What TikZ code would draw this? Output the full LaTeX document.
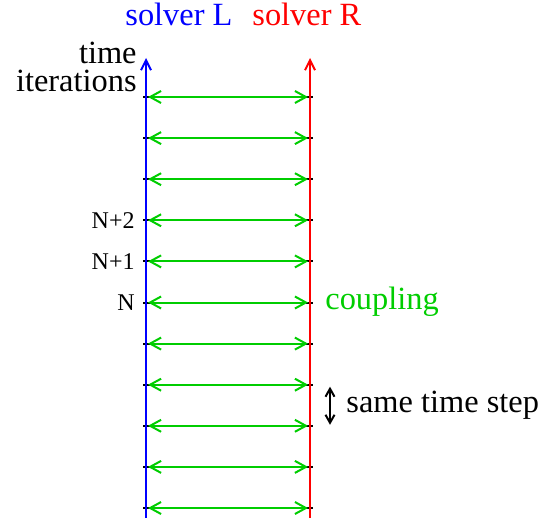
\documentclass[tikz,border=0pt]{standalone}
\usepackage{fontspec}
\setmainfont{Liberation Serif}
\usetikzlibrary{arrows.meta}
\definecolor{couplegreen}{RGB}{0,205,0}

\begin{document}
\begin{tikzpicture}[x=0.5pt, y=-0.5pt]
  \tikzstyle{axis} = [line width=1pt, -{Straight Barb[length=5pt,width=5pt]}]
  \tikzstyle{tickmark} = [line width=1pt, black]
  \tikzstyle{couple} = [couplegreen, line width=1pt, {Straight Barb[length=5.5pt,width=6pt]}-{Straight Barb[length=5.5pt,width=6pt]}]
  \tikzstyle{stepspan} = [line width=1pt, {Straight Barb[length=4pt,width=4.5pt]}-{Straight Barb[length=4pt,width=4.5pt]}]
  \tikzstyle{biglabel} = [inner sep=0pt, font=\fontsize{16.2}{13.6}\selectfont]
  \tikzstyle{level} = [inner sep=0pt, anchor=east, font=\fontsize{12}{14}\selectfont]
  \useasboundingbox (0,0) rectangle (544,523);
  \coordinate (Lbot) at (146,518);
  \coordinate (Ltop) at (146,58);
  \coordinate (Rbot) at (310,518);
  \coordinate (Rtop) at (310,58);
  \foreach \i in {0,...,10} {
    \pgfmathsetmacro{\yy}{97+41.1*\i}
    \coordinate (L\i) at (146,\yy);
    \coordinate (R\i) at (310,\yy);
    \draw[tickmark] ([xshift=-1.5pt]L\i) -- ([xshift=2.5pt]L\i);
    \draw[tickmark] ([xshift=-2pt]R\i) -- ([xshift=1.5pt]R\i);
  }
  \draw[axis, blue] (Lbot) -- (Ltop);
  \draw[axis, red] (Rbot) -- (Rtop);
  \foreach \i in {0,...,10}
    \draw[couple] ([xshift=1pt]L\i) -- ([xshift=-1pt]R\i);
  \node[biglabel, blue, anchor=base west] (solverL) at (125,26) {solver L};
  \node[biglabel, red, anchor=base west] (solverR) at (252,26) {solver R};
  \node[biglabel, align=right, anchor=east] (timeit) at (137,67) {time\\iterations};
  \node[level] (n2) at ([xshift=-5.5pt]L3) {N+2};
  \node[level] (n1) at ([xshift=-5.5pt]L4) {N+1};
  \node[level] (n0) at ([xshift=-5.5pt]L5) {N};
  \node[biglabel, couplegreen, anchor=base west] (coupling) at ([xshift=7.5pt, yshift=-3.5pt]R5) {coupling};
  \coordinate (S7) at ([xshift=10pt]R7);
  \coordinate (S8) at ([xshift=10pt]R8);
  \draw[stepspan] ([yshift=-1pt]S7) -- ([yshift=0.5pt]S8);
  \node[biglabel, anchor=base west] (samestep) at (346,412) {same time step};
\end{tikzpicture}
\end{document}
